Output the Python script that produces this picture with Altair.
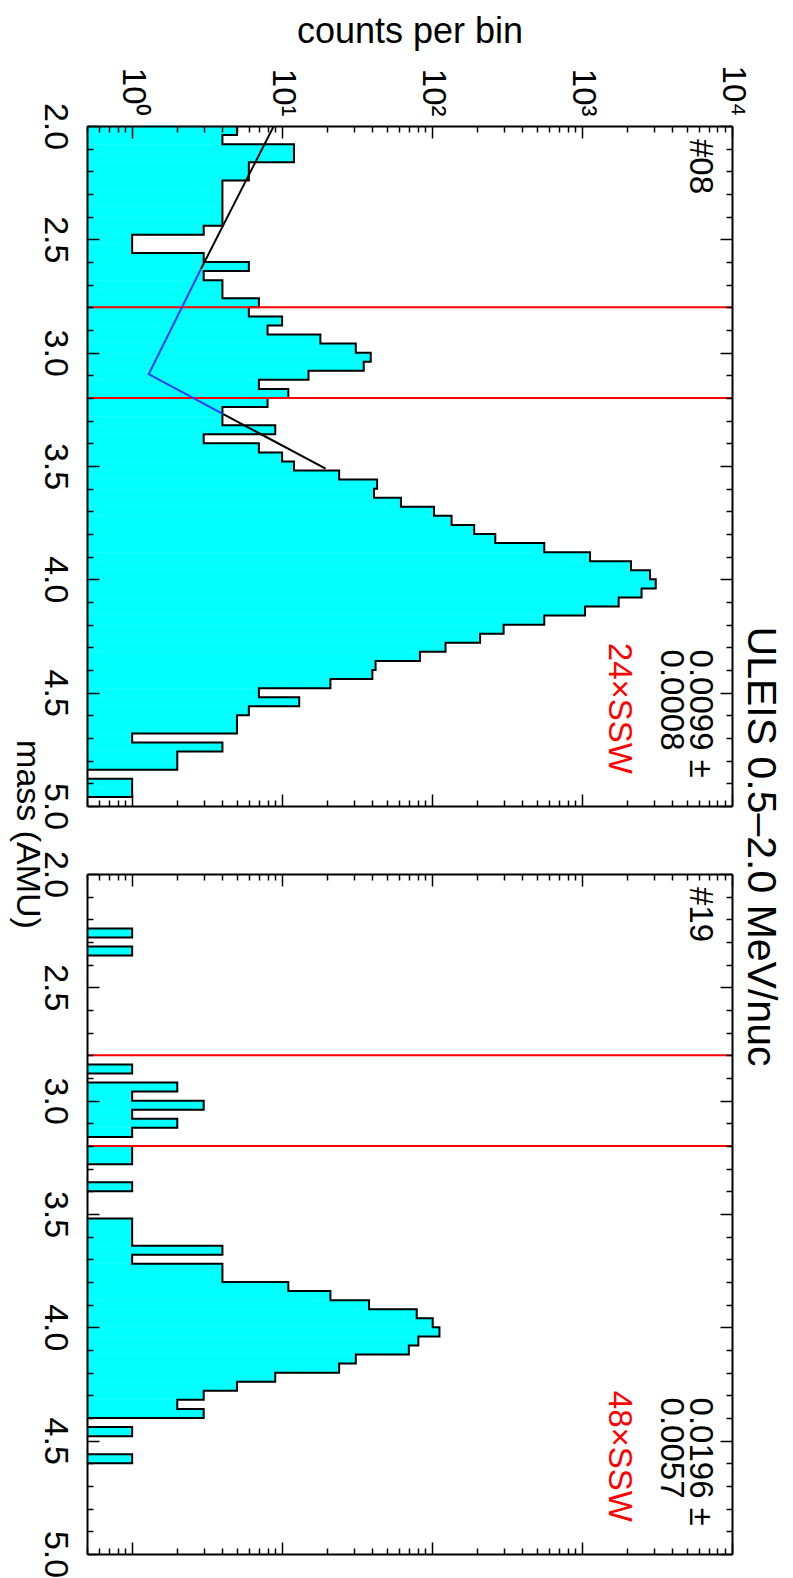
import altair as alt
import pandas as pd

# ---------------- data ----------------
bin_start = 2.0
bin_width = 0.04
n_bins = 75

# counts per 0.04-AMU bin, from 2.00 to 5.00 AMU
counts_08 = [5, 4, 12, 12, 6, 6, 4, 4, 4, 4, 4,
             3, 1, 1, 3, 6, 3, 4, 4, 7, 6,
             10, 8, 18, 31, 39, 35, 15, 7, 11, 8,
             4, 4, 9, 3, 7, 10, 12, 24, 43, 41,
             62, 103, 135, 191, 264, 560, 1130, 2120, 2840, 3100,
             2495, 1755, 1047, 560, 300, 209, 123, 83, 42, 40,
             21, 7, 13, 6, 5, 5, 1, 4, 2, 2,
             0, 1, 1, 0]
counts_19 = [0, 0, 0, 0, 0, 0, 1, 0, 1, 0,
             0, 0, 0, 0, 0, 0, 0, 0, 0, 0,
             0, 1, 0, 2, 1, 3, 1, 2, 1, 0,
             1, 1, 0, 0, 1, 0, 0, 0, 1, 1,
             1, 4, 1, 4, 4, 11, 21, 38, 79, 101,
             112, 81, 70, 31, 24, 9, 5, 3, 2, 3,
             0, 1, 0, 0, 1, 0, 0, 0, 0, 0,
             0, 0, 0, 0, 0]

cut_masses = [2.8, 3.2]

# background fit (panel #08): vertices, black outside, blue inside
fit_mass = [2.0, 2.632, 3.095, 3.271, 3.512]
fit_counts = [8.8, 2.87, 1.29, 4.05, 19.5]
fit_segments = [("s1", "black", [0, 1]), ("s2", "blue", [1, 2, 3]), ("s3", "black", [3, 4])]

mass_labels = [2.0, 2.5, 3.0, 3.5, 4.0, 4.5, 5.0]
mass_ticks = [round(2.0 + 0.1 * i, 1) for i in range(31)]
count_labels = [1, 10, 100, 1000, 10000]
count_ticks = [0.5, 0.6, 0.7, 0.8, 0.9,
               1, 2, 3, 4, 5, 6, 7, 8, 9,
               10, 20, 30, 40, 50, 60, 70, 80, 90,
               100, 200, 300, 400, 500, 600, 700, 800, 900,
               1000, 2000, 3000, 4000, 5000, 6000, 7000, 8000, 9000,
               10000]

# ---------------- styling ----------------
W, H = 645, 680
FONT = "Liberation Sans"
CYAN = "#00ffff"
BLUE = "#2a3cff"
FLOOR = 0.1  # value used for empty bins (below the axis, clipped)

xs = alt.Scale(type="log", domain=[0.5, 10000], nice=False)
ys = alt.Scale(domain=[2.0, 5.0], reverse=True, nice=False, zero=False)

MASS_MAJOR = "abs(datum.value * 2 - round(datum.value * 2)) < 0.01"
COUNT_MAJOR = "abs(log(datum.value) / LN10 - round(log(datum.value) / LN10)) < 0.01"


def tick_axis(orient, values, test, offset, **kw):
    opts = dict(orient=orient, offset=offset, values=values, labels=False, grid=False,
                ticks=True, tickColor="black", tickWidth=1.5,
                tickSize={"condition": {"test": test, "value": 12}, "value": 6},
                domain=True, domainColor="black", domainWidth=2, zindex=2,
                minExtent=0, maxExtent=0)
    opts.update(kw)
    if "title" not in opts:
        opts["title"] = None
    return alt.Axis(**opts)


def make_panel(counts, tag, ratio, err, ssw, first):
    lo = [round(bin_start + bin_width * i, 2) for i in range(n_bins)]
    hi = [round(v + bin_width, 2) for v in lo]
    hist = pd.DataFrame({"lo": lo, "hi": hi, "count": counts})
    filled = hist[hist["count"] > 0]

    rows = []
    for i, (a, b, c) in enumerate(zip(lo, hi, counts)):
        v = c if c > 0 else FLOOR
        rows.append({"mass": a, "count": v, "idx": 2 * i})
        rows.append({"mass": b, "count": v, "idx": 2 * i + 1})
    outline = pd.DataFrame(rows)

    if first:
        top_axis = alt.Axis(orient="top", values=count_labels,
                            labelExpr="'10' + ['\u2070','\u00b9','\u00b2','\u00b3','\u2074'][round(log(datum.value)/LN10)]",
                            labelAngle=90, labelAlign="right", labelBaseline="middle",
                            labelPadding=10, labelFontSize=33, labelFont=FONT, labelColor="black",
                            labelFlush=False, labelOverlap=False,
                            ticks=False, tickSize=0, domain=False, grid=False,
                            title="counts per bin", titleX=W / 2, titleY=-95, titleAngle=0,
                            titleAlign="center", titleBaseline="middle", titleFontSize=36,
                            titleFont=FONT, titleFontWeight="normal", titleColor="black")
        left_title = dict(title="mass (AMU)", titleAngle=90, titleX=-61, titleY=708,
                          titleAlign="center", titleBaseline="middle", titleFontSize=34,
                          titleFont=FONT, titleFontWeight="normal", titleColor="black")
        right_title = dict(title="ULEIS 0.5\u20132.0 MeV/nuc", titleAngle=90, titleX=27, titleY=720,
                           titleAlign="center", titleBaseline="middle", titleFontSize=41,
                           titleFont=FONT, titleFontWeight="normal", titleColor="black")
    else:
        top_axis = None
        left_title = dict(title=None)
        right_title = {}

    left_axis = alt.Axis(orient="left", values=mass_labels, format=".1f",
                         labelAngle=90, labelAlign="center", labelBaseline="top",
                         labelPadding=16, labelFontSize=34, labelFont=FONT, labelColor="black",
                         labelOverlap=False, labelFlush=False,
                         ticks=False, tickSize=0, domain=False, grid=False, **left_title)

    bars = alt.Chart(filled).mark_rect(color=CYAN, stroke=CYAN, strokeWidth=0.5).encode(
        x=alt.X("count:Q", scale=xs, axis=top_axis),
        x2=alt.X2Datum(0.5),
        y=alt.Y("lo:Q", scale=ys, axis=left_axis),
        y2="hi:Q",
    )

    step = alt.Chart(outline).mark_line(color="black", strokeWidth=2, clip=True).encode(
        x=alt.X("count:Q", scale=xs, axis=tick_axis("bottom", count_ticks, COUNT_MAJOR, -H)),
        y=alt.Y("mass:Q", scale=ys, axis=tick_axis("right", mass_ticks, MASS_MAJOR, -W)),
        order="idx:Q",
    )

    carrier = alt.Chart(filled).mark_point(opacity=0, clip=True, size=1).encode(
        x=alt.X("count:Q", scale=xs, axis=tick_axis("top", count_ticks, COUNT_MAJOR, -H)),
        y=alt.Y("lo:Q", scale=ys, axis=tick_axis("left", mass_ticks, MASS_MAJOR, -W, **right_title)),
    )

    rules = alt.Chart(pd.DataFrame({"m": cut_masses})).mark_rule(color="#ff0000", strokeWidth=2).encode(
        y=alt.Y("m:Q", scale=ys, axis=None)
    )

    layers = [bars, step, carrier, rules]

    if first:
        frows = []
        k = 0
        for seg, col, pts in fit_segments:
            for p in pts:
                frows.append({"mass": fit_mass[p], "count": fit_counts[p], "seg": seg,
                              "col": BLUE if col == "blue" else "black", "idx": k})
                k += 1
        fit = alt.Chart(pd.DataFrame(frows)).mark_line(strokeWidth=2, clip=True).encode(
            x=alt.X("count:Q", scale=xs, axis=None),
            y=alt.Y("mass:Q", scale=ys, axis=None),
            color=alt.Color("col:N", scale=None),
            detail="seg:N",
            order="idx:Q",
        )
        layers.append(fit)

    def note(text, cx, my, color="black", size=33):
        return alt.Chart(pd.DataFrame({"t": [text]})).mark_text(
            angle=90, align="left", baseline="middle", font=FONT, fontSize=size, color=color
        ).encode(
            x=alt.XDatum(cx, scale=xs, axis=None),
            y=alt.YDatum(my, scale=ys, axis=None),
            text="t:N",
        )

    layers += [
        note(tag, 6080, 2.057),
        note(ratio + " \u00b1", 6080, 4.31),
        note(err, 3936, 4.31),
        note(ssw, 1770, 4.28, color="#ff0000"),
    ]

    return alt.layer(*layers).resolve_axis(x="independent", y="independent").properties(
        width=W, height=H
    )


p1 = make_panel(counts_08, "#08", "0.0099", "0.0008", "24\u00d7SSW", True)
p2 = make_panel(counts_19, "#19", "0.0196", "0.0057", "48\u00d7SSW", False)

chart = alt.vconcat(p1, p2, spacing=68, bounds="flush").properties(
    padding={"top": 4, "right": 4, "left": 0, "bottom": 0}
).configure_view(stroke="transparent").configure(font=FONT)

chart.save("out.html", embed_options={"renderer": "svg", "actions": False})
